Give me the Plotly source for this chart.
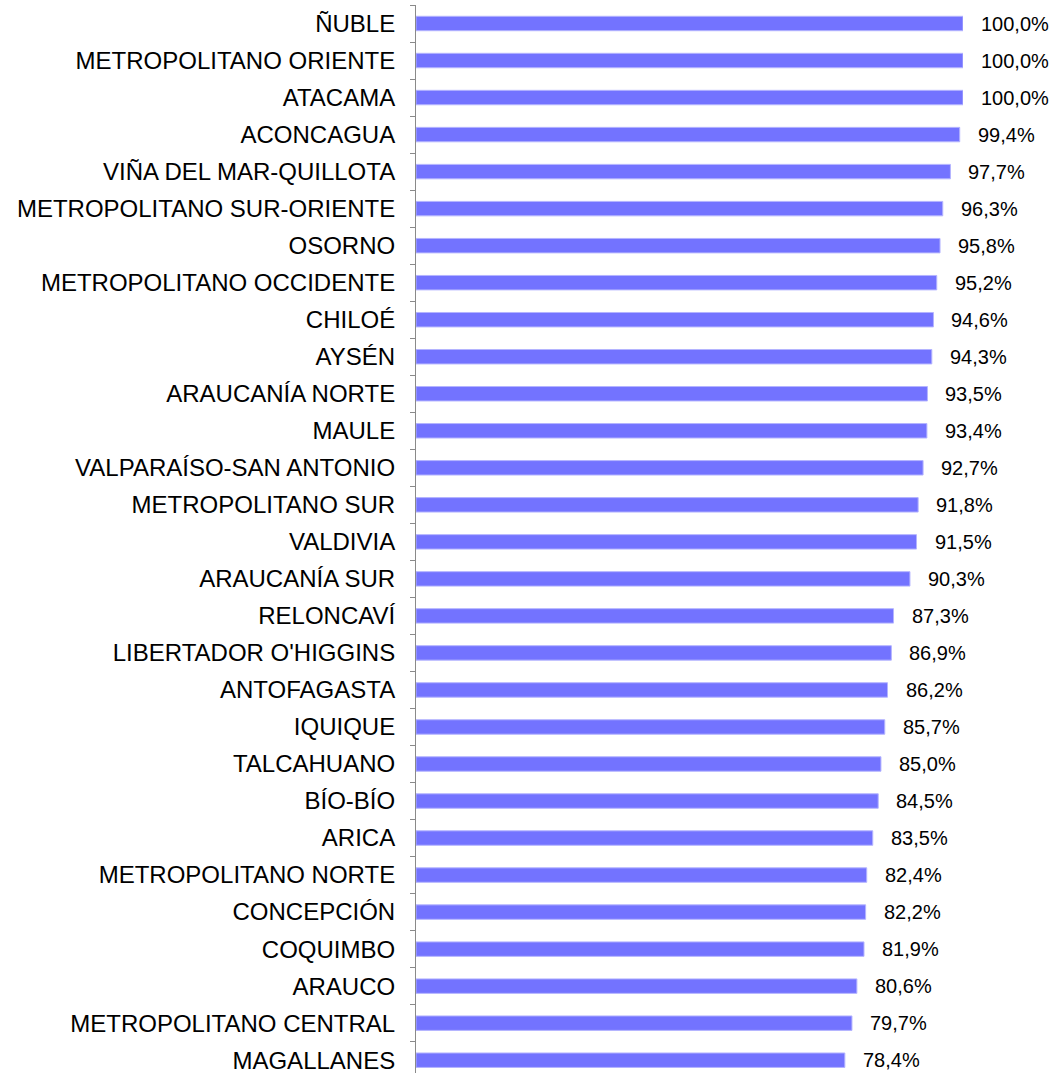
import plotly.graph_objects as go

categories = [
    "ÑUBLE", "METROPOLITANO ORIENTE", "ATACAMA", "ACONCAGUA", "VIÑA DEL MAR-QUILLOTA",
    "METROPOLITANO SUR-ORIENTE", "OSORNO", "METROPOLITANO OCCIDENTE", "CHILOÉ", "AYSÉN",
    "ARAUCANÍA NORTE", "MAULE", "VALPARAÍSO-SAN ANTONIO", "METROPOLITANO SUR", "VALDIVIA",
    "ARAUCANÍA SUR", "RELONCAVÍ", "LIBERTADOR O'HIGGINS", "ANTOFAGASTA", "IQUIQUE",
    "TALCAHUANO", "BÍO-BÍO", "ARICA", "METROPOLITANO NORTE", "CONCEPCIÓN",
    "COQUIMBO", "ARAUCO", "METROPOLITANO CENTRAL", "MAGALLANES",
]
values = [
    100.0, 100.0, 100.0, 99.4, 97.7,
    96.3, 95.8, 95.2, 94.6, 94.3,
    93.5, 93.4, 92.7, 91.8, 91.5,
    90.3, 87.3, 86.9, 86.2, 85.7,
    85.0, 84.5, 83.5, 82.4, 82.2,
    81.9, 80.6, 79.7, 78.4,
]
labels = [f"{v:.1f}%".replace(".", ",") for v in values]

fig = go.Figure()
fig.add_trace(go.Bar(
    x=values, y=categories, orientation="h", width=0.39,
    marker=dict(color="#7373FF", line=dict(color="#B4B4FF", width=1)),
    hoverinfo="skip",
))

annotations = [
    dict(x=v, y=c, text=t, xref="x", yref="y", xanchor="left", yanchor="middle",
         xshift=16, showarrow=False,
         font=dict(family="Liberation Sans, Arial, sans-serif", size=20, color="#000000"))
    for c, v, t in zip(categories, values, labels)
]

fig.update_layout(
    width=1054, height=1073,
    margin=dict(l=416, r=91, t=5, b=0),
    paper_bgcolor="white", plot_bgcolor="white",
    showlegend=False,
    annotations=annotations,
    xaxis=dict(range=[0, 100], showticklabels=False, showgrid=False, zeroline=False,
               showline=False, ticks=""),
    yaxis=dict(type="category", categoryorder="array", categoryarray=categories,
               range=[28.346, -0.5], showgrid=False, zeroline=False,
               showline=True, linecolor="#8a8a8a", linewidth=1,
               ticks="outside", tickson="boundaries", ticklen=5, tickcolor="#8a8a8a",
               tickwidth=1, ticklabelstandoff=15,
               tickfont=dict(family="Liberation Sans, Arial, sans-serif", size=24, color="#000000")),
)

fig.write_html("out.html", config={"displayModeBar": False},
               post_script="document.body.style.margin='0';document.body.style.overflow='hidden';")
